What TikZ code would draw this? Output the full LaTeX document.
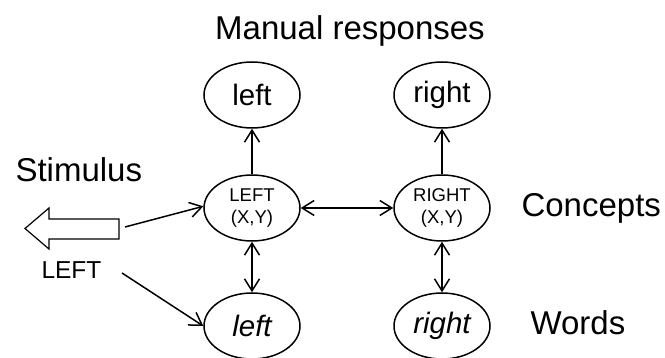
\documentclass[tikz,border=0pt]{standalone}
\usepackage{fontspec}
\setmainfont{Liberation Sans}
\usetikzlibrary{shapes.geometric}
\usetikzlibrary{arrows.meta}

\tikzset{
  barb/.tip={Straight Barb[length=12pt,width=15pt]},
  unit/.style={draw, ellipse, line width=1.5pt, minimum width=96pt, minimum height=66pt, inner sep=0pt},
  conn/.style={line width=1.5pt},
  big/.style={font=\fontsize{33}{40}\selectfont},
  wordtext/.style={font=\fontsize{29.5}{34}\selectfont},
  smalltext/.style={font=\fontsize{18.5}{22}\selectfont, align=center},
}

\begin{document}
\begin{tikzpicture}[x=1pt,y=-1pt]
\useasboundingbox (0,0) rectangle (665,358);
\node[big, anchor=base] (title) at (350,40) {Manual responses};
\node[big, anchor=base west] (stimtext) at (12,182) {Stimulus};
\node[big, anchor=base west] (conctext) at (518,217) {Concepts};
\node[big, anchor=base west] (wordstext) at (527,335) {Words};
\node[anchor=base west, font=\fontsize{24.5}{28}\selectfont] (stimleft) at (38,279) {LEFT};
% responses
\node[unit, wordtext] (ml) at (252,95) {left};
\node[unit, wordtext] (mr) at (442,95) {right};
% concepts
\node[unit, smalltext] (cl) at (252,208) {LEFT\\(X,Y)};
\node[unit, smalltext] (cr) at (442,208) {RIGHT\\(X,Y)};
% words
\node[unit, wordtext] (wl) at (252,326) {\itshape left};
\node[unit, wordtext] (wr) at (442,326) {\itshape right};
% stimulus arrow
\draw[line width=1.2pt, line join=miter] (119,219) -- (49,219) -- (49,208) -- (25,228.5) -- (49,249) -- (49,239) -- (119,239) -- cycle;
\coordinate (s1) at (125,227);
\coordinate (s2) at (122,273);
\draw[conn, -barb] (s1) -- (cl.178);
\draw[conn, -barb] (s2) -- (wl.west);
\draw[conn, -barb] (cl) -- (ml);
\draw[conn, -barb] (cr) -- (mr);
\draw[conn, barb-barb] (cl) -- (cr);
\draw[conn, barb-barb] (cl) -- (wl);
\draw[conn, barb-barb] (cr) -- (wr);
\end{tikzpicture}
\end{document}
